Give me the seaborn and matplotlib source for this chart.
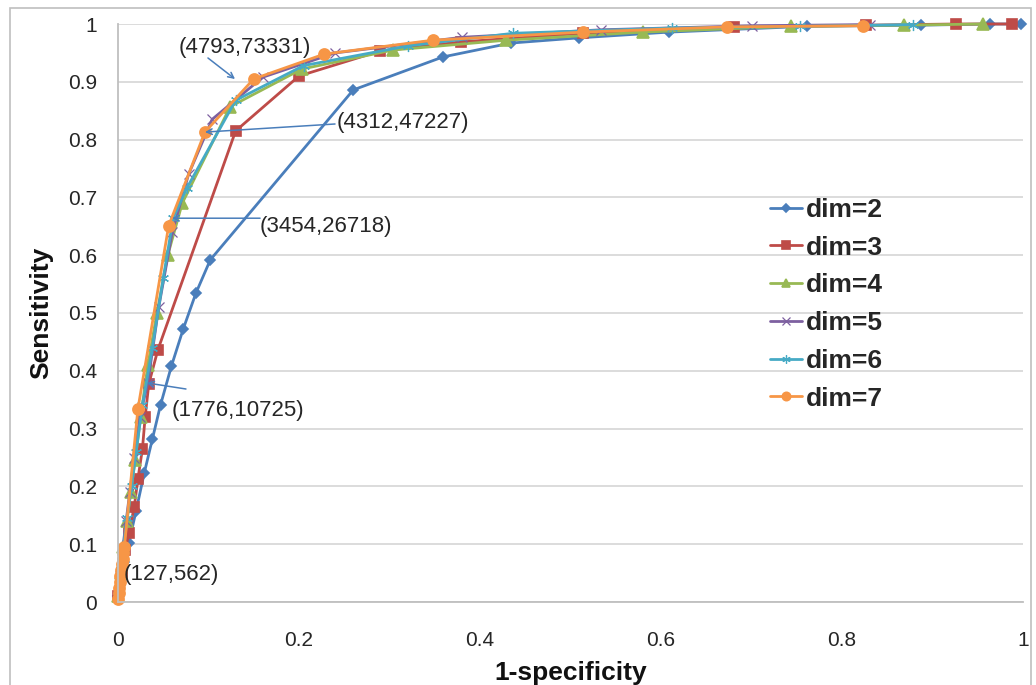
import matplotlib
matplotlib.use("Agg")
import matplotlib.pyplot as plt
from matplotlib.patches import Rectangle
import seaborn as sns

# ROC points (1-specificity, sensitivity) per embedding dimension
fpr_dim2 = [0.000, 0.003, 0.007, 0.012, 0.020, 0.029, 0.038, 0.047, 0.059, 0.072, 0.086,
            0.102, 0.260, 0.359, 0.434, 0.509, 0.609, 0.761, 0.887, 0.963, 0.998]
tpr_dim2 = [0.010, 0.040, 0.070, 0.102, 0.158, 0.223, 0.282, 0.341, 0.408, 0.472, 0.534,
            0.592, 0.886, 0.943, 0.967, 0.976, 0.986, 0.996, 0.998, 1.000, 1.000]

fpr_dim3 = [0.000, 0.004, 0.008, 0.012, 0.018, 0.022, 0.027, 0.030, 0.034, 0.044,
            0.130, 0.200, 0.289, 0.379, 0.514, 0.681, 0.826, 0.926, 0.988]
tpr_dim3 = [0.010, 0.050, 0.090, 0.119, 0.165, 0.213, 0.265, 0.320, 0.377, 0.436,
            0.815, 0.910, 0.953, 0.969, 0.984, 0.995, 0.998, 1.000, 1.000]

fpr_dim4 = [0.000, 0.003, 0.006, 0.010, 0.014, 0.019, 0.025, 0.033, 0.043, 0.055,
            0.071, 0.124, 0.203, 0.304, 0.429, 0.580, 0.744, 0.868, 0.956]
tpr_dim4 = [0.010, 0.050, 0.095, 0.140, 0.190, 0.245, 0.320, 0.410, 0.500, 0.600,
            0.690, 0.857, 0.922, 0.955, 0.972, 0.986, 0.996, 0.998, 1.000]

fpr_dim5 = [0.000, 0.002, 0.005, 0.009, 0.013, 0.018, 0.024, 0.033, 0.045, 0.060,
            0.078, 0.104, 0.160, 0.240, 0.380, 0.534, 0.701, 0.831]
tpr_dim5 = [0.010, 0.045, 0.090, 0.140, 0.190, 0.250, 0.320, 0.379, 0.510, 0.640,
            0.740, 0.835, 0.908, 0.950, 0.977, 0.990, 0.997, 0.999]

fpr_dim6 = [0.000, 0.003, 0.006, 0.010, 0.015, 0.020, 0.027, 0.038, 0.050, 0.061,
            0.076, 0.130, 0.205, 0.320, 0.437, 0.612, 0.754, 0.879]
tpr_dim6 = [0.010, 0.050, 0.095, 0.145, 0.200, 0.260, 0.340, 0.440, 0.560, 0.664,
            0.716, 0.868, 0.928, 0.962, 0.984, 0.993, 0.996, 0.999]

fpr_dim7 = [0.000, 0.001, 0.001, 0.002, 0.002, 0.003, 0.004, 0.005, 0.006, 0.007,
            0.022, 0.056, 0.096, 0.150, 0.228, 0.348, 0.514, 0.673, 0.823]
tpr_dim7 = [0.005, 0.015, 0.025, 0.035, 0.045, 0.055, 0.065, 0.075, 0.085, 0.095,
            0.334, 0.651, 0.813, 0.905, 0.948, 0.972, 0.986, 0.995, 0.997]

series_names = ["dim=2", "dim=3", "dim=4", "dim=5", "dim=6", "dim=7"]
series_fpr = [fpr_dim2, fpr_dim3, fpr_dim4, fpr_dim5, fpr_dim6, fpr_dim7]
series_tpr = [tpr_dim2, tpr_dim3, tpr_dim4, tpr_dim5, tpr_dim6, tpr_dim7]

# point annotations (threshold counts)
ann_labels = ["(4793,73331)", "(4312,47227)", "(3454,26718)", "(1776,10725)", "(127,562)"]

x_ticks = [0, 0.2, 0.4, 0.6, 0.8, 1.0]
x_tick_labels = ["0", "0.2", "0.4", "0.6", "0.8", "1"]
y_ticks = [0, 0.1, 0.2, 0.3, 0.4, 0.5, 0.6, 0.7, 0.8, 0.9, 1.0]
y_tick_labels = ["0", "0.1", "0.2", "0.3", "0.4", "0.5", "0.6", "0.7", "0.8", "0.9", "1"]

colors = ["#4a7ebb", "#be4b48", "#98b954", "#7d60a0", "#46aac5", "#f79646"]
markers = ["D", "s", "^", "x", (6, 2, 0), "o"]
msizes = [5, 7, 8, 7, 8, 8]
medges = [1.2, 1.2, 1.2, 0.9, 0.9, 1.2]

sns.set_style("white")
plt.rcParams['font.family'] = ['Liberation Sans', 'DejaVu Sans']

W, H = 1036, 685
fig = plt.figure(figsize=(W / 100, H / 100), dpi=100)
ax = fig.add_axes([118 / W, 1 - 602 / H, 905 / W, 578 / H])

for name, fpr, tpr, col, mk, ms, mew in zip(series_names, series_fpr, series_tpr,
                                           colors, markers, msizes, medges):
    sns.lineplot(x=fpr, y=tpr, ax=ax, color=col, marker=mk, markersize=ms,
                 markeredgecolor=col, markerfacecolor=col, markeredgewidth=mew,
                 linewidth=2, sort=False, estimator=None, label=name, clip_on=False)

ax.set_xlim(0, 1)
ax.set_ylim(0, 1)
ax.set_xticks(x_ticks)
ax.set_xticklabels(x_tick_labels)
ax.set_yticks(y_ticks)
ax.set_yticklabels(y_tick_labels)
ax.tick_params(axis='both', length=0, labelsize=15, colors='#262626')
ax.tick_params(axis='x', pad=21)
ax.tick_params(axis='y', pad=15)

ax.yaxis.grid(True, color='#d9d9d9', linewidth=1.3)
ax.xaxis.grid(False)
ax.set_axisbelow(True)
for side in ['top', 'right']:
    ax.spines[side].set_visible(False)
for side in ['left', 'bottom']:
    ax.spines[side].set_color('#bfbfbf')
    ax.spines[side].set_linewidth(1.3)

ax.set_xlabel("1-specificity", fontsize=19, fontweight='bold', labelpad=8, color='#111111')
ax.set_ylabel("Sensitivity", fontsize=19, fontweight='bold', labelpad=11, color='#111111')

# annotation texts and arrows
text_pos = [(0.1403, 0.960), (0.242, 0.829), (0.157, 0.649), (0.0597, 0.332), (0.0066, 0.047)]
text_ha = ['center', 'left', 'left', 'left', 'left']
arrow_tails = [(0.0994, 0.9412), (0.2398, 0.827), (0.157, 0.664), (0.0751, 0.3685), None]
arrow_tips = [(0.1293, 0.9048), (0.0961, 0.813), (0.0597, 0.664), (0.0320, 0.379), None]
for lab, pos, ha, tail, tip in zip(ann_labels, text_pos, text_ha, arrow_tails, arrow_tips):
    ax.text(pos[0], pos[1], lab, ha=ha, va='center', fontsize=16, color='#262626')
    if tail is not None:
        ax.annotate('', xy=tip, xytext=tail,
                    arrowprops=dict(arrowstyle='->', color='#4a7ebb', lw=1.1,
                                    shrinkA=0, shrinkB=0))

ax.legend(loc='upper left', bbox_to_anchor=(770 / W, 1 - 198 / H),
          bbox_transform=fig.transFigure, frameon=False,
          prop=dict(weight='bold', size=19), handlelength=1.2, handletextpad=0.15,
          labelspacing=0.52, borderpad=0, borderaxespad=0, numpoints=1,
          markerscale=0.75)

# outer chart frame
fig.add_artist(Rectangle((10 / W, -0.05), (1031 - 10) / W, 1.05 - 8 / H,
                         transform=fig.transFigure, fill=False,
                         edgecolor='#bfbfbf', linewidth=1.2))

fig.savefig("out.png", dpi=100)
